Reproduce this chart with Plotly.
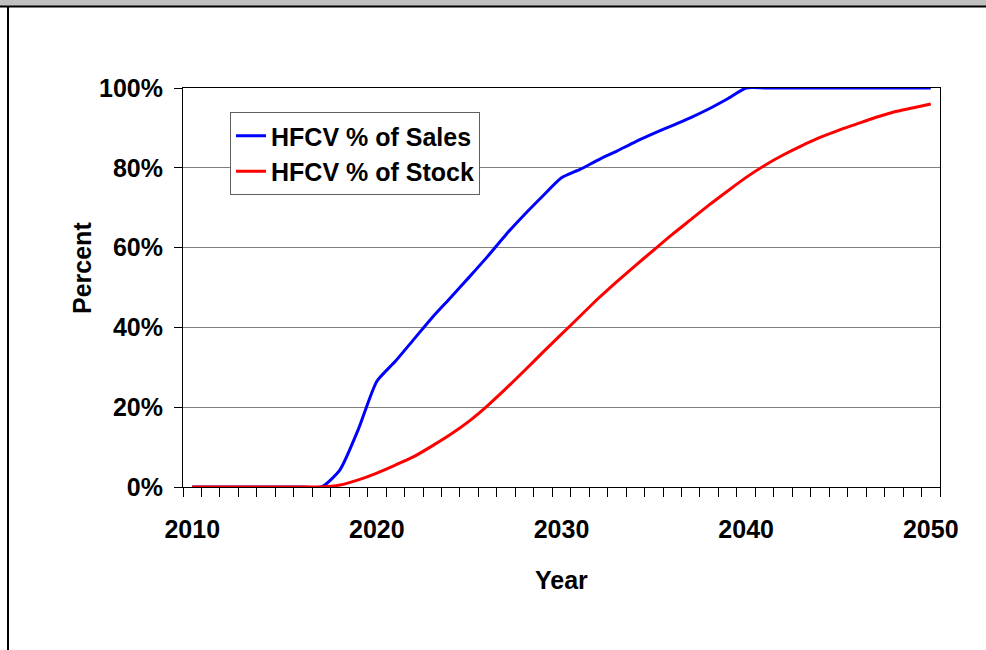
import plotly.graph_objects as go

years = list(range(2010, 2051))
sales = [0, 0, 0, 0, 0, 0, 0, 0, 4.3, 14.5, 26.5, 31.5, 37, 42.5, 47.5, 52.6, 57.8, 63.3, 68.3, 73, 77.5,
         79.6, 82, 84.2, 86.5, 88.6, 90.6, 92.6, 94.8, 97.3, 100,
         100, 100, 100, 100, 100, 100, 100, 100, 100, 100]
stock = [0, 0, 0, 0, 0, 0, 0, 0, 0.5, 1.8, 3.5, 5.5, 7.6, 10.3, 13.2, 16.5, 20.4, 24.7, 29.2, 33.8, 38.3,
         42.8, 47.3, 51.5, 55.5, 59.4, 63.3, 67.0, 70.7, 74.2, 77.6,
         80.6, 83.2, 85.5, 87.6, 89.4, 91.0, 92.6, 94.0, 95.0, 96.0]
series_names = ["HFCV % of Sales", "HFCV % of Stock"]
x_tick_vals = [2010, 2020, 2030, 2040, 2050]
y_tick_vals = [0, 20, 40, 60, 80, 100]
y_tick_text = ["0%", "20%", "40%", "60%", "80%", "100%"]

FONT = "Liberation Sans, Arial, sans-serif"

fig = go.Figure()
fig.add_trace(go.Scatter(x=years, y=sales, mode="lines", name=series_names[0],
                         line=dict(color="#0000FF", width=3, shape="spline", smoothing=0.6),
                         cliponaxis=False, legendgroup="a"))
fig.add_trace(go.Scatter(x=years, y=stock, mode="lines", name=series_names[1],
                         line=dict(color="#FF0000", width=3, shape="spline", smoothing=0.6),
                         cliponaxis=False, legendgroup="b"))

W, H = 986, 650
L, R, T, B = 183, 940, 88, 487
pw, ph = R - L, B - T

def px(x):
    return (x - L) / pw

def py(y):
    return (B - y) / ph

fig.update_layout(
    width=W, height=H,
    margin=dict(l=L, r=W - R, t=T, b=H - B, pad=0),
    paper_bgcolor="white", plot_bgcolor="white",
    font=dict(family=FONT, size=25, color="black", weight="bold"),
    showlegend=True,
    legend=dict(x=px(230), y=py(112), xanchor="left", yanchor="top",
                bordercolor="#606060", borderwidth=1, bgcolor="white",
                font=dict(family=FONT, size=25, color="black", weight="bold"),
                tracegroupgap=1, traceorder="normal", itemwidth=30),
    xaxis=dict(range=[2009.5, 2050.5], tickmode="array", tickvals=x_tick_vals,
               ticks="outside", ticklen=9, tickcolor="rgba(0,0,0,0)",
               showgrid=False, zeroline=False, showline=True, linecolor="black",
               linewidth=1, mirror=True, layer="below traces",
               tickfont=dict(family=FONT, size=25, color="black", weight="bold"),
               ticklabelstandoff=11,
               minor=dict(tickmode="linear", tick0=2009.5, dtick=1, ticks="outside",
                          ticklen=9, tickcolor="black", tickwidth=1, showgrid=False)),
    yaxis=dict(range=[0, 100], tickmode="array", tickvals=y_tick_vals, ticktext=y_tick_text,
               ticks="outside", ticklen=8, tickcolor="black",
               showgrid=True, gridcolor="#808080", gridwidth=1,
               zeroline=False, showline=True, linecolor="black", linewidth=1,
               mirror=True, layer="below traces",
               tickfont=dict(family=FONT, size=25, color="black", weight="bold"),
               ticklabelstandoff=6),
    annotations=[
        dict(text="Year", x=2030, xref="x", y=py(580), yref="paper", showarrow=False,
             xanchor="center", yanchor="middle",
             font=dict(family=FONT, size=25, color="black", weight="bold")),
        dict(text="Percent", x=px(82), xref="paper", y=py(268), yref="paper", showarrow=False,
             textangle=-90, xanchor="center", yanchor="middle",
             font=dict(family=FONT, size=25, color="black", weight="bold")),
    ],
    shapes=[
        dict(type="rect", xref="paper", yref="paper", x0=px(0), x1=px(W), y0=py(0), y1=py(6),
             fillcolor="#C0C0C0", line=dict(width=0), layer="above"),
        dict(type="line", xref="paper", yref="paper", x0=px(0), x1=px(W), y0=py(6.5), y1=py(6.5),
             line=dict(color="black", width=2), layer="above"),
        dict(type="line", xref="paper", yref="paper", x0=px(8), x1=px(8), y0=py(6), y1=py(H),
             line=dict(color="black", width=2), layer="above"),
    ],
)

fig.write_html("out.html", config={"displayModeBar": False},
               post_script="document.body.style.margin='0';document.body.style.overflow='hidden';")
